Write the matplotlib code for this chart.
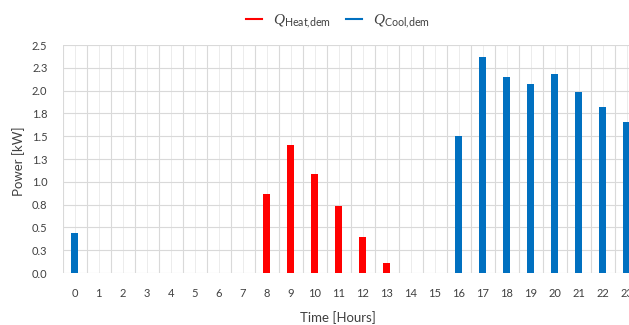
import matplotlib
matplotlib.use("Agg")
import matplotlib.pyplot as plt
from matplotlib.lines import Line2D
import numpy as np

plt.rcParams['font.family'] = ['Lato', 'DejaVu Sans']
plt.rcParams['mathtext.fontset'] = 'custom'
plt.rcParams['mathtext.rm'] = 'Lato'
plt.rcParams['mathtext.sf'] = 'Lato'
plt.rcParams['mathtext.it'] = 'Liberation Serif:italic'
plt.rcParams['mathtext.bf'] = 'Lato:bold'

hours = list(range(24))
heat = [0, 0, 0, 0, 0, 0, 0, 0, 0.87, 1.40, 1.09, 0.73, 0.39, 0.11,
        0, 0, 0, 0, 0, 0, 0, 0, 0, 0]
cool = [0.44, 0, 0, 0, 0, 0, 0, 0, 0, 0, 0, 0, 0, 0,
        0, 0, 1.50, 2.37, 2.15, 2.07, 2.18, 1.98, 1.82, 1.66]
yticks = [0, 0.25, 0.5, 0.75, 1.0, 1.25, 1.5, 1.75, 2.0, 2.25, 2.5]
ytick_labels = ['0.0', '0.3', '0.5', '0.8', '1.0', '1.3', '1.5', '1.8', '2.0', '2.3', '2.5']

RED = '#ff0000'
BLUE = '#0070c0'
GRID = '#d9d9d9'
TXT = '#404040'

W, H = 629, 325
fig = plt.figure(figsize=(W / 100, H / 100), dpi=100)
ax = fig.add_axes([62.7 / W, 52 / H, 576 / W, 228 / H])

x = np.array(hours)
heat_arr = np.array(heat)
cool_arr = np.array(cool)
mh = heat_arr > 0
mc = cool_arr > 0
ax.bar(x[mh], heat_arr[mh], width=0.3, color=RED, zorder=3)
ax.bar(x[mc], cool_arr[mc], width=0.3, color=BLUE, zorder=3)

ax.set_xlim(-0.5, 23.5)
ax.set_ylim(0, 2.5)
ax.set_yticks(yticks)
ax.set_yticklabels(ytick_labels)
ax.set_xticks(hours)
ax.set_xticklabels([str(h) for h in hours])
ax.set_xticks(np.arange(-0.5, 24, 1), minor=True)
ax.tick_params(axis='both', length=0, labelsize=8, labelcolor=TXT)
ax.tick_params(axis='y', pad=11)
ax.tick_params(axis='x', pad=11)
ax.tick_params(which='minor', length=0)
ax.grid(True, which='major', axis='y', color=GRID, lw=0.8, zorder=0)
ax.grid(True, which='major', axis='x', color='#ececec', lw=0.7, zorder=0)
ax.grid(True, which='minor', axis='x', color=GRID, lw=0.8, zorder=0)
ax.set_axisbelow(True)
for s in ax.spines.values():
    s.set_visible(False)

fig.text(19 / W, 1 - 161 / H, 'Power [kW]', rotation=90, ha='center', va='center',
         fontsize=9.5, color=TXT)
fig.text(338 / W, 1 - 318 / H, 'Time [Hours]', ha='center', va='center',
         fontsize=9.5, color=TXT)

handles = [Line2D([0], [0], color=RED, lw=1.5), Line2D([0], [0], color=BLUE, lw=1.5)]
labels = [r'$Q_{\mathrm{Heat{,}dem}}$', r'$Q_{\mathrm{Cool{,}dem}}$']
fig.legend(handles, labels, loc='center', bbox_to_anchor=(338 / W, 1 - 21 / H),
           ncol=2, frameon=False, fontsize=11, handlelength=1.05, handletextpad=0.7,
           columnspacing=1.0, labelcolor=TXT)

fig.savefig('out.png', dpi=100)
